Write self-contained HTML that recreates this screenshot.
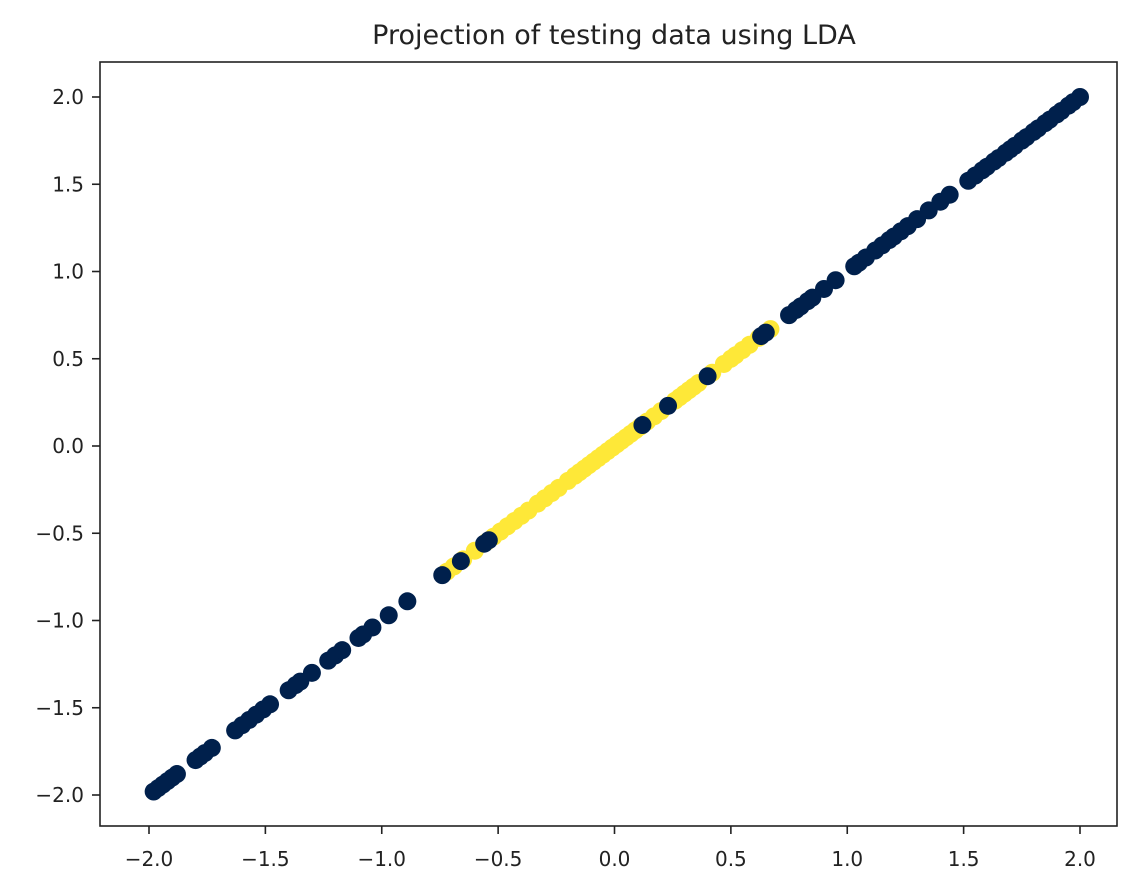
<!DOCTYPE html>
<html><head><meta charset="utf-8"><style>
html,body{margin:0;padding:0;background:#fff;}
svg{display:block;font-family:"DejaVu Sans","Liberation Sans",sans-serif;}
</style></head><body>
<svg id="chart" width="1139" height="885" viewBox="0 0 1139 885">
<rect x="0" y="0" width="1139" height="885" fill="#fff"/>
<text x="614" y="44" text-anchor="middle" font-size="27" fill="#222">Projection of testing data using LDA</text>
<g id="points"></g>
<g id="xticks"></g>
<g id="yticks"></g>
<rect x="100" y="62" width="1017" height="764" fill="none" stroke="#222" stroke-width="1.6"/>
</svg>
<script>
const navyX=[-1.98,-1.96,-1.94,-1.92,-1.9,-1.88,-1.8,-1.78,-1.76,-1.73,-1.63,-1.6,-1.57,-1.54,-1.51,-1.48,-1.4,-1.37,-1.35,-1.3,-1.23,-1.2,-1.17,-1.1,-1.08,-1.04,-0.97,-0.89,-0.74,-0.66,-0.56,-0.54,0.12,0.23,0.4,0.63,0.65,0.75,0.78,0.8,0.83,0.85,0.9,0.95,1.03,1.05,1.08,1.12,1.15,1.18,1.2,1.23,1.26,1.3,1.35,1.4,1.44,1.52,1.55,1.58,1.6,1.63,1.65,1.68,1.7,1.72,1.75,1.77,1.8,1.82,1.85,1.87,1.9,1.92,1.95,1.97,2.0];
const navyY=[-1.98,-1.96,-1.94,-1.92,-1.9,-1.88,-1.8,-1.78,-1.76,-1.73,-1.63,-1.6,-1.57,-1.54,-1.51,-1.48,-1.4,-1.37,-1.35,-1.3,-1.23,-1.2,-1.17,-1.1,-1.08,-1.04,-0.97,-0.89,-0.74,-0.66,-0.56,-0.54,0.12,0.23,0.4,0.63,0.65,0.75,0.78,0.8,0.83,0.85,0.9,0.95,1.03,1.05,1.08,1.12,1.15,1.18,1.2,1.23,1.26,1.3,1.35,1.4,1.44,1.52,1.55,1.58,1.6,1.63,1.65,1.68,1.7,1.72,1.75,1.77,1.8,1.82,1.85,1.87,1.9,1.92,1.95,1.97,2.0];
const yellowX=[-0.72,-0.69,-0.65,-0.6,-0.55,-0.52,-0.49,-0.46,-0.43,-0.4,-0.37,-0.33,-0.3,-0.27,-0.24,-0.2,-0.17,-0.15,-0.13,-0.11,-0.09,-0.07,-0.05,-0.03,-0.01,0.01,0.03,0.05,0.07,0.09,0.11,0.14,0.17,0.2,0.26,0.28,0.3,0.32,0.34,0.36,0.42,0.47,0.5,0.52,0.55,0.58,0.62,0.67];
const yellowY=[-0.72,-0.69,-0.65,-0.6,-0.55,-0.52,-0.49,-0.46,-0.43,-0.4,-0.37,-0.33,-0.3,-0.27,-0.24,-0.2,-0.17,-0.15,-0.13,-0.11,-0.09,-0.07,-0.05,-0.03,-0.01,0.01,0.03,0.05,0.07,0.09,0.11,0.14,0.17,0.2,0.26,0.28,0.3,0.32,0.34,0.36,0.42,0.47,0.5,0.52,0.55,0.58,0.62,0.67];
const xTicks=[-2.0,-1.5,-1.0,-0.5,0.0,0.5,1.0,1.5,2.0];
const yTicks=[-2.0,-1.5,-1.0,-0.5,0.0,0.5,1.0,1.5,2.0];
const NS='http://www.w3.org/2000/svg';
function sx(v){return 149+(v+2)*232.75;}
function sy(v){return 795-(v+2)*174.5;}
const pts=document.getElementById('points');
function dot(x,y,fill){
  const c=document.createElementNS(NS,'circle');
  c.setAttribute('cx',sx(x));c.setAttribute('cy',sy(y));c.setAttribute('r',9);c.setAttribute('fill',fill);
  
  
  pts.appendChild(c);
}
yellowX.forEach((x,i)=>dot(x,yellowY[i],'#fee838'));
navyX.forEach((x,i)=>dot(x,navyY[i],'#00204c'));
function lab(v){const s=Math.abs(v).toFixed(1);return v<0?'\u2212'+s:s;}
const xg=document.getElementById('xticks');
xTicks.forEach(v=>{
  const l=document.createElementNS(NS,'line');
  l.setAttribute('x1',sx(v));l.setAttribute('x2',sx(v));l.setAttribute('y1',826);l.setAttribute('y2',834);l.setAttribute('stroke','#222');l.setAttribute('stroke-width',1.6);
  
  
  xg.appendChild(l);
  const t=document.createElementNS(NS,'text');
  t.setAttribute('x',sx(v));t.setAttribute('y',866);t.setAttribute('text-anchor','middle');t.setAttribute('font-size',20);t.setAttribute('fill','#222');
  t.textContent=lab(v);
  
  
  xg.appendChild(t);
});
const yg=document.getElementById('yticks');
yTicks.forEach(v=>{
  const l=document.createElementNS(NS,'line');
  l.setAttribute('x1',92);l.setAttribute('x2',100);l.setAttribute('y1',sy(v));l.setAttribute('y2',sy(v));l.setAttribute('stroke','#222');l.setAttribute('stroke-width',1.6);
  
  
  yg.appendChild(l);
  const t=document.createElementNS(NS,'text');
  t.setAttribute('x',84);t.setAttribute('y',sy(v)+7);t.setAttribute('text-anchor','end');t.setAttribute('font-size',20);t.setAttribute('fill','#222');
  t.textContent=lab(v);
  
  
  yg.appendChild(t);
});
</script>
</body></html>
